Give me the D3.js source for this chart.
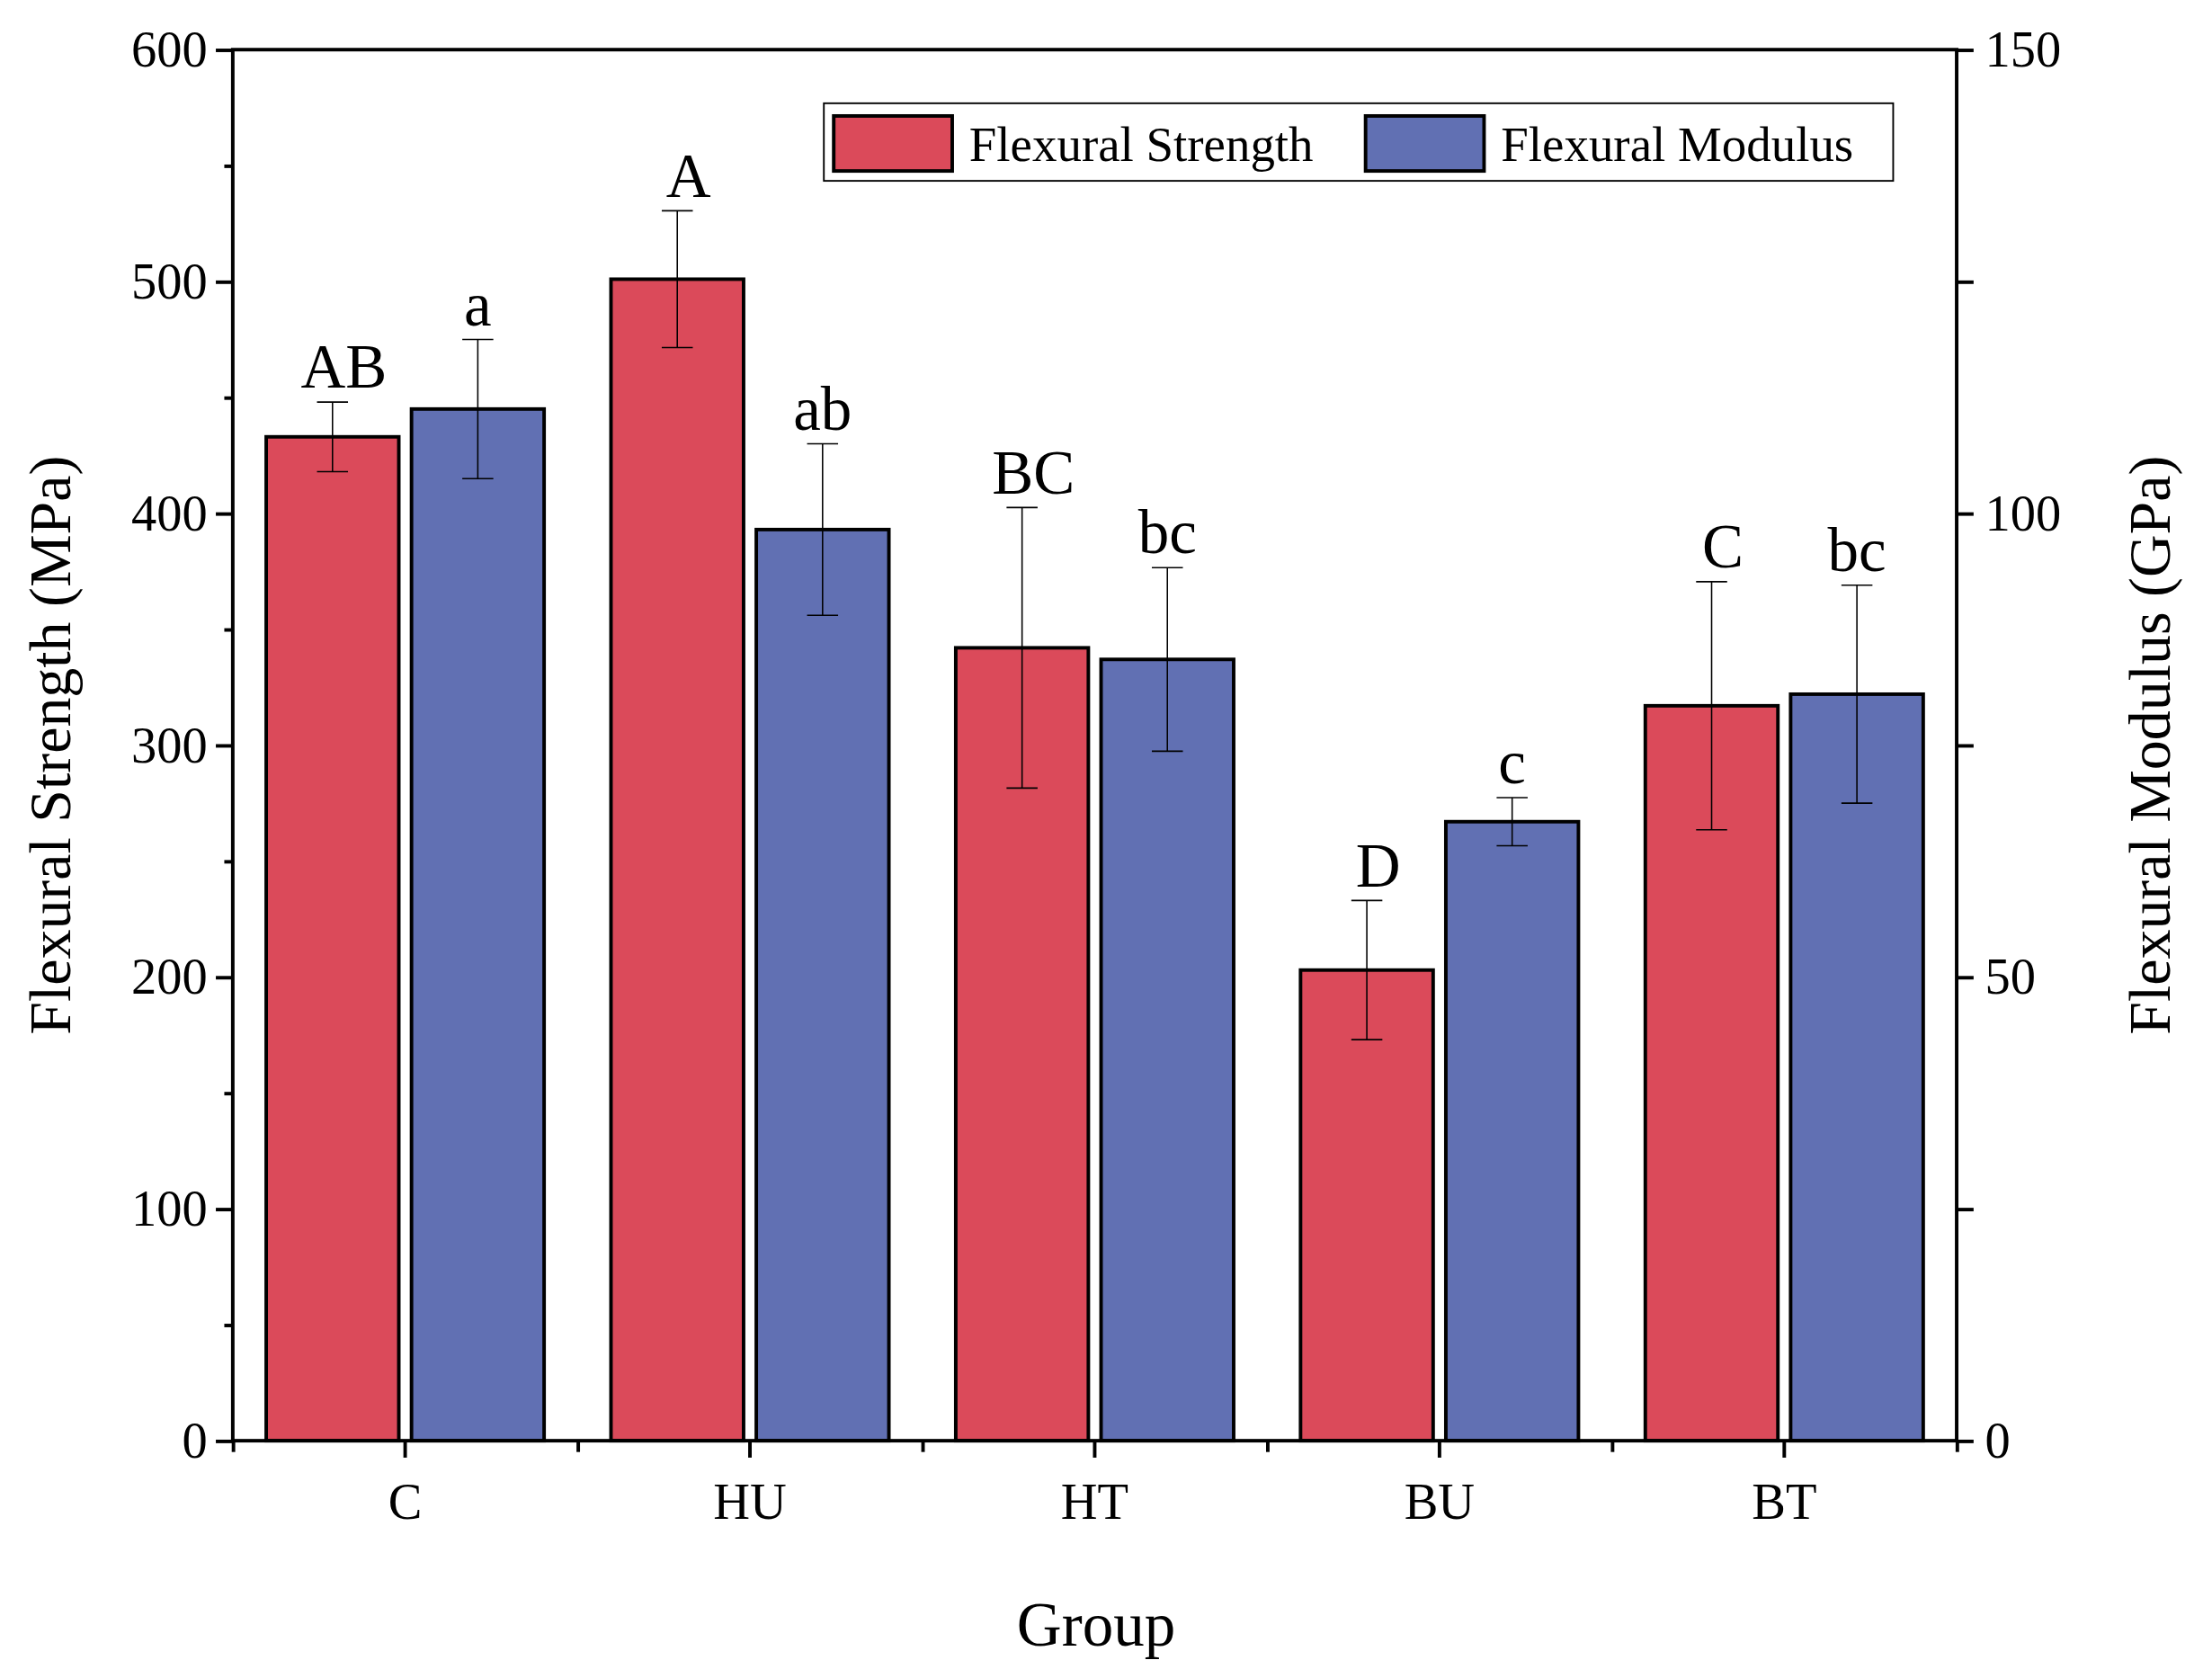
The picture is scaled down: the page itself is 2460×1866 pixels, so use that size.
<!DOCTYPE html>
<html><head><meta charset="utf-8">
<script src="https://cdn.jsdelivr.net/npm/d3@7"></script>
<style>body{margin:0;background:#fff}svg{display:block}</style>
</head><body>
<svg id="c" width="2460" height="1866" viewBox="0 0 1568 1189"></svg>
<script>
const categories = ["C","HU","HT","BU","BT"];
const strength = [433,501,342,203,317];
const strengthErr = [15,29.5,60.5,30,53.5];
const strengthLetters = ["AB","A","BC","D","C"];
const modulus = [111.25,98.25,84.25,66.75,80.5];
const modulusErr = [7.5,9.25,9.9,2.6,11.75];
const modulusLetters = ["a","ab","bc","c","bc"];
const leftTicks = [0,100,200,300,400,500,600];
const rightTicks = [0,50,100,150];

const svg = d3.select("#c");
const L=165,R=1387,T=35,B=1021;
const font="'Liberation Serif','Times New Roman',serif";
const red="#db4a5a", blue="#6170b3";
const x = d3.scaleBand().domain(categories).range([L,R]);
const y = d3.scaleLinear().domain([0,600]).range([B,T]);
const y2 = d3.scaleLinear().domain([0,150]).range([B,T]);
const bw=94, gap=9;

const g=svg.append("g");
categories.forEach((c,i)=>{
  const cx=x(c)+x.bandwidth()/2;
  const xs=cx-bw-gap/2+bw/2, xm=cx+gap/2+bw/2;
  g.append("rect").attr("x",cx-gap/2-bw).attr("y",y(strength[i])).attr("width",bw).attr("height",B-y(strength[i])).attr("fill",red).attr("stroke","#000").attr("stroke-width",2.5);
  g.append("rect").attr("x",cx+gap/2).attr("y",y2(modulus[i])).attr("width",bw).attr("height",B-y2(modulus[i])).attr("fill",blue).attr("stroke","#000").attr("stroke-width",2.5);
  const eb=(px,top,bot)=>{
    g.append("line").attr("x1",px).attr("x2",px).attr("y1",top).attr("y2",bot).attr("stroke","#000").attr("stroke-width",1);
    [top,bot].forEach(yy=>g.append("line").attr("x1",px-11).attr("x2",px+11).attr("y1",yy).attr("y2",yy).attr("stroke","#000").attr("stroke-width",1));
  };
  eb(xs,y(strength[i]+strengthErr[i]),y(strength[i]-strengthErr[i]));
  eb(xm,y2(modulus[i]+modulusErr[i]),y2(modulus[i]-modulusErr[i]));
  g.append("text").attr("x",xs+8).attr("y",y(strength[i]+strengthErr[i])-10).attr("text-anchor","middle").attr("font-family",font).attr("font-size",44).text(strengthLetters[i]);
  g.append("text").attr("x",xm).attr("y",y2(modulus[i]+modulusErr[i])-10).attr("text-anchor","middle").attr("font-family",font).attr("font-size",44).text(modulusLetters[i]);
});

// frame
svg.append("rect").attr("x",L).attr("y",T).attr("width",R-L).attr("height",B-T).attr("fill","none").attr("stroke","#000").attr("stroke-width",2.5);

// left axis
const la=svg.append("g").attr("transform",`translate(${L},0)`).call(d3.axisLeft(y).tickValues(leftTicks).tickSize(12).tickPadding(6));
const lm=svg.append("g").attr("transform",`translate(${L},0)`).call(d3.axisLeft(y).tickValues(d3.range(50,600,100)).tickSize(6).tickFormat(""));
const ra=svg.append("g").attr("transform",`translate(${R},0)`).call(d3.axisRight(y2).tickValues(rightTicks).tickSize(12).tickPadding(8));
const rm=svg.append("g").attr("transform",`translate(${R},0)`).call(d3.axisRight(y2).tickValues([25,75,125]).tickSize(12).tickFormat(""));
const ba=svg.append("g").attr("transform",`translate(0,${B})`).call(d3.axisBottom(x).tickSize(12).tickPadding(18));
const bm=svg.append("g").attr("transform",`translate(0,${B})`).call(d3.axisBottom(d3.scaleLinear().domain([0,5]).range([L,R])).tickValues([0,1,2,3,4,5]).tickSize(8).tickFormat(""));
[la,lm,ra,rm,ba,bm].forEach(a=>{
  a.selectAll(".domain").remove();
  a.selectAll("line").attr("stroke","#000").attr("stroke-width",2.5);
  a.selectAll("text").attr("font-family",font).attr("font-size",36).attr("fill","#000");
});

svg.append("text").attr("transform","translate(50,528) rotate(-90)").attr("text-anchor","middle").attr("font-family",font).attr("font-size",42).text("Flexural Strength (MPa)");
svg.append("text").attr("transform","translate(1538,528) rotate(-90)").attr("text-anchor","middle").attr("font-family",font).attr("font-size",42).text("Flexural Modulus (GPa)");
svg.append("text").attr("x",777).attr("y",1166).attr("text-anchor","middle").attr("font-family",font).attr("font-size",44).text("Group");

// legend
const lg=svg.append("g");
lg.append("rect").attr("x",584).attr("y",73).attr("width",758).attr("height",55).attr("fill","#fff").attr("stroke","#000").attr("stroke-width",1.2);
const items=[["Flexural Strength",red,591],["Flexural Modulus",blue,968]];
items.forEach(([t,c,x0])=>{
  lg.append("rect").attr("x",x0).attr("y",82).attr("width",84).attr("height",39).attr("fill",c).attr("stroke","#000").attr("stroke-width",2.5);
  lg.append("text").attr("x",x0+96).attr("y",114).attr("font-family",font).attr("font-size",35).text(t);
});
</script>
</body></html>
